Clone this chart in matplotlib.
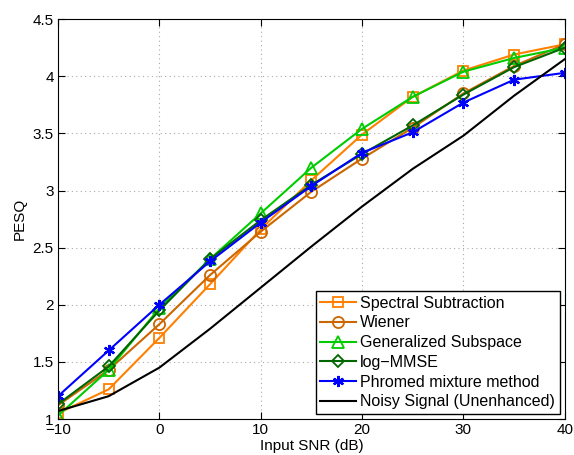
import numpy as np
import matplotlib.pyplot as plt

plt.rcParams['font.family'] = ['Liberation Sans', 'DejaVu Sans']

# Input SNR (dB)
snr = [-10, -5, 0, 5, 10, 15, 20, 25, 30, 35, 40]

# PESQ scores
spectral_sub = [1.05, 1.26, 1.71, 2.18, 2.66, 3.09, 3.49, 3.82, 4.05, 4.19, 4.28]
wiener = [1.12, 1.43, 1.83, 2.26, 2.64, 2.99, 3.28, 3.55, 3.85, 4.09, 4.28]
gen_subspace = [1.03, 1.43, 1.97, 2.40, 2.80, 3.20, 3.54, 3.82, 4.04, 4.16, 4.25]
log_mmse = [1.13, 1.46, 1.95, 2.40, 2.74, 3.05, 3.32, 3.57, 3.84, 4.08, 4.25]
phromed = [1.20, 1.60, 2.00, 2.38, 2.72, 3.04, 3.33, 3.51, 3.77, 3.97, 4.03]
noisy = [1.07, 1.20, 1.45, 1.79, 2.15, 2.51, 2.86, 3.19, 3.48, 3.83, 4.15]

fig = plt.figure(figsize=(5.74, 4.55), dpi=100)
ax = fig.add_axes([0.101, 0.079, 0.883, 0.879])

lw = 1.5
ax.plot(snr, spectral_sub, color='#FF8000', marker='s', mfc='none', ms=7, mew=1.3, lw=lw,
        label='Spectral Subtraction')
ax.plot(snr, wiener, color='#CC6600', marker='o', mfc='none', ms=8, mew=1.3, lw=lw,
        label='Wiener')
ax.plot(snr, gen_subspace, color='#00CC00', marker='^', mfc='none', ms=8, mew=1.3, lw=lw,
        label='Generalized Subspace')
ax.plot(snr, log_mmse, color='#006600', marker='D', mfc='none', ms=6, mew=1.3, lw=lw,
        label='log\u2212MMSE')
ax.plot(snr, phromed, color='#0000FF', marker=(6, 2, 0), ms=8, mew=1.6, lw=lw,
        label='Phromed mixture method')
ax.plot(snr, noisy, color='black', lw=lw, label='Noisy Signal (Unenhanced)')

ax.set_xlim(-10, 40)
ax.set_ylim(1, 4.5)
ax.set_xticks([-10, 0, 10, 20, 30, 40])
ax.set_xticklabels(['\u221210', '0', '10', '20', '30', '40'])
ax.set_yticks([1, 1.5, 2, 2.5, 3, 3.5, 4, 4.5])
ax.set_yticklabels(['1', '1.5', '2', '2.5', '3', '3.5', '4', '4.5'])
ax.tick_params(direction='in', top=True, right=True, labelsize=11, length=5, pad=3)
ax.grid(True, linestyle=(0, (1, 3)), color='#aaaaaa', lw=0.8)
ax.set_xlabel('Input SNR (dB)', fontsize=11, labelpad=1)
ax.set_ylabel('PESQ', fontsize=11, labelpad=4)

leg = ax.legend(loc='lower right', fontsize=11.5, fancybox=False, framealpha=1,
                edgecolor='black', borderaxespad=0.3, handlelength=2.2,
                handletextpad=0.3, labelspacing=0.3, borderpad=0.3)
leg.get_frame().set_linewidth(1.0)

fig.savefig('out.png', dpi=100)
